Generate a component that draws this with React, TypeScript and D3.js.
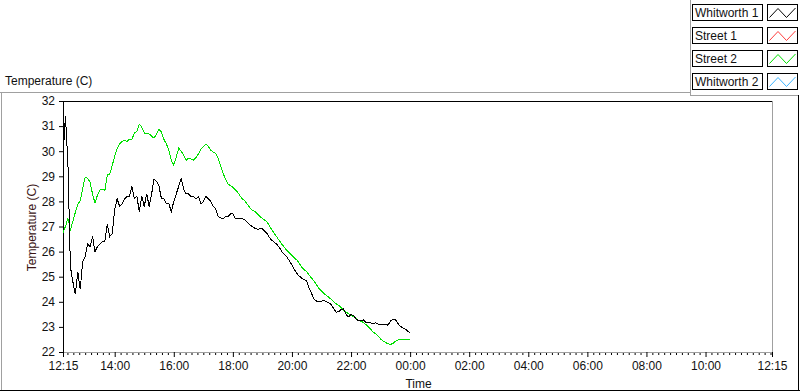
import React, { useRef, useEffect } from 'react';
import * as d3 from 'd3';

// time axis: one day starting at 12:15, samples every 5 minutes
const startTime = new Date(2000, 0, 1, 12, 15);
const endTime = new Date(2000, 0, 2, 12, 15);
const sampleMinutes = 5;

const whitworth1 = [
  29.8, 31.4, 29.5, 25.4, 24.8, 24.3, 25.2, 24.5, 25.6, 25.8,
  26.3, 26.2, 26.6, 26.0, 26.2, 26.3, 26.4, 26.4, 27.1, 26.6,
  26.7, 27.7, 28.1, 27.8, 27.9, 28.1, 28.2, 28.2, 28.6, 28.1,
  28.2, 27.6, 28.2, 27.8, 28.3, 27.8, 28.3, 28.9, 28.8, 28.6,
  28.1, 28.1, 27.9, 27.9, 27.6, 28.0, 28.3, 28.6, 28.9, 28.5,
  28.3, 28.3, 28.2, 28.2, 28.1, 28.2, 27.9, 28.0, 28.2, 28.1,
  28.0, 27.8, 27.7, 27.4, 27.35, 27.3, 27.4, 27.4, 27.5, 27.5,
  27.3, 27.3, 27.3, 27.3, 27.25, 27.15, 27.05, 27.0, 26.93, 26.89,
  26.91, 26.91, 26.8, 26.71, 26.54, 26.44, 26.36, 26.28, 26.15, 25.98,
  25.88, 25.78, 25.62, 25.47, 25.29, 25.13, 25.02, 24.94, 24.89, 24.84,
  24.52, 24.33, 24.09, 24.03, 24.03, 24.03, 24.05, 24.0, 23.95, 23.89,
  23.72, 23.59, 23.61, 23.69, 23.72, 23.49, 23.4, 23.49, 23.45, 23.32,
  23.25, 23.25, 23.28, 23.19, 23.16, 23.16, 23.14, 23.16, 23.11, 23.1,
  23.1, 23.1, 23.07, 23.23, 23.3, 23.3, 23.14, 23.03, 22.96, 22.92,
  22.83, 22.76,
];

const street1: number[] = [];

const street2 = [
  26.76, 27.0, 27.33, 26.87, 27.19, 27.56, 27.89, 28.03, 28.52, 28.96,
  28.92, 28.76, 28.29, 27.93, 28.25, 28.45, 28.49, 28.43, 29.05, 29.09,
  29.43, 29.8, 30.12, 30.29, 30.4, 30.43, 30.39, 30.48, 30.47, 30.73,
  30.79, 31.08, 30.96, 30.73, 30.69, 30.69, 30.6, 30.52, 30.69, 30.87,
  30.76, 30.47, 30.29, 30.03, 29.63, 29.45, 29.76, 30.12, 29.99, 29.85,
  29.64, 29.72, 29.69, 29.64, 29.75, 29.89, 30.09, 30.17, 30.28, 30.2,
  30.04, 29.96, 29.92, 29.73, 29.43, 29.13, 28.89, 28.69, 28.63, 28.56,
  28.47, 28.36, 28.2, 28.09, 28.01, 27.87, 27.73, 27.63, 27.61, 27.49,
  27.4, 27.32, 27.25, 27.17, 27.0, 26.85, 26.69, 26.56, 26.42, 26.28,
  26.16, 26.04, 25.95, 25.84, 25.75, 25.66, 25.53, 25.38, 25.28, 25.2,
  25.06, 24.94, 24.82, 24.68, 24.52, 24.44, 24.33, 24.26, 24.18, 24.09,
  23.99, 23.92, 23.86, 23.76, 23.67, 23.59, 23.52, 23.47, 23.41, 23.33,
  23.27, 23.22, 23.18, 23.1, 23.0, 22.9, 22.8, 22.72, 22.63, 22.52,
  22.44, 22.38, 22.33, 22.3, 22.34, 22.43, 22.48, 22.5, 22.5, 22.5,
  22.5, 22.5,
];

const whitworth2: number[] = [];

const seriesNames = ['Whitworth 1', 'Street 1', 'Street 2', 'Whitworth 2'];
const seriesColors = ['#000000', '#ff3c3c', '#00e000', '#3cb4ff'];
const seriesValues = [whitworth1, street1, street2, whitworth2];
const drawOrder = [2, 3, 1, 0];

const yDomain = [22, 32];
const yTickValues = [22, 23, 24, 25, 26, 27, 28, 29, 30, 31, 32];

const FONT = '"Liberation Sans", Arial, sans-serif';

export default function App() {
  const svgRef = useRef<SVGSVGElement>(null);

  useEffect(() => {
    if (!svgRef.current) return;
    const width = 800;
    const height = 392;
    const plot = { left: 63, top: 101, right: 772, bottom: 352 };

    const svg = d3.select(svgRef.current);
    svg.selectAll('*').remove();
    svg.attr('width', width).attr('height', height).attr('viewBox', `0 0 ${width} ${height}`);

    svg.append('rect').attr('width', width).attr('height', height).attr('fill', '#fff');

    // outer panel frame
    const gray = '#a0a0a0';
    svg.append('line').attr('x1', 0).attr('x2', 690).attr('y1', 92.5).attr('y2', 92.5).attr('stroke', gray);
    svg.append('line').attr('x1', 690.5).attr('x2', 690.5).attr('y1', 0).attr('y2', 95).attr('stroke', gray);
    svg.append('line').attr('x1', 690).attr('x2', 799).attr('y1', 95.5).attr('y2', 95.5).attr('stroke', gray);
    svg.append('line').attr('x1', 1.5).attr('x2', 1.5).attr('y1', 92).attr('y2', 391).attr('stroke', gray);
    svg.append('line').attr('x1', 0).attr('x2', 800).attr('y1', 390.5).attr('y2', 390.5).attr('stroke', '#000');
    svg.append('line').attr('x1', 798.5).attr('x2', 798.5).attr('y1', 95).attr('y2', 391).attr('stroke', '#000');

    svg.append('text')
      .attr('x', 5).attr('y', 85)
      .attr('font-family', FONT).attr('font-size', 12).attr('fill', '#111')
      .text('Temperature (C)');

    const x = d3.scaleTime().domain([startTime, endTime]).range([plot.left, plot.right]);
    const y = d3.scaleLinear().domain(yDomain).range([plot.bottom, plot.top]);

    // plot frame top / right
    svg.append('line').attr('x1', plot.left).attr('x2', plot.right + 1)
      .attr('y1', plot.top + 0.5).attr('y2', plot.top + 0.5).attr('stroke', '#000');
    svg.append('line').attr('x1', plot.right + 0.5).attr('x2', plot.right + 0.5)
      .attr('y1', plot.top).attr('y2', plot.bottom + 1).attr('stroke', gray);

    // y axis
    const yAxis = svg.append('g')
      .attr('transform', `translate(${plot.left},0)`)
      .call(d3.axisLeft(y).tickValues(yTickValues).tickSize(4).tickSizeOuter(0).tickPadding(4));
    yAxis.select('.domain').attr('stroke', '#000');
    yAxis.selectAll('.tick line').attr('stroke', '#000');
    yAxis.selectAll('text').attr('font-family', FONT).attr('font-size', 12).attr('fill', '#111');

    // x axis: labelled ticks at the ends and every 2 hours, minor ticks every 12 minutes
    const evenHours = d3.timeHour.every(2)!.range(d3.timeMinute.offset(startTime, 30), d3.timeMinute.offset(endTime, -30));
    const majorTicks = [startTime, ...evenHours, endTime];
    const majorSet = new Set(majorTicks.map((d) => +d));
    const minorTicks = d3.timeMinute.every(12)!.range(startTime, endTime).filter((d) => !majorSet.has(+d));

    const xMinor = svg.append('g')
      .attr('transform', `translate(0,${plot.bottom})`)
      .call(d3.axisBottom(x).tickValues(minorTicks).tickSize(3).tickSizeOuter(0).tickFormat(() => ''));
    xMinor.select('.domain').remove();
    xMinor.selectAll('.tick line').attr('stroke', '#000');

    const xAxis = svg.append('g')
      .attr('transform', `translate(0,${plot.bottom})`)
      .call(d3.axisBottom(x).tickValues(majorTicks).tickSize(5).tickSizeOuter(0).tickPadding(4)
        .tickFormat((d) => d3.timeFormat('%H:%M')(d as Date)));
    xAxis.select('.domain').attr('stroke', gray);
    xAxis.selectAll('.tick line').attr('stroke', '#000');
    xAxis.selectAll('text').attr('font-family', FONT).attr('font-size', 12).attr('fill', '#111');

    // axis titles
    svg.append('text')
      .attr('transform', `translate(36,${(plot.top + plot.bottom) / 2 + 1}) rotate(-90)`)
      .attr('text-anchor', 'middle')
      .attr('font-family', FONT).attr('font-size', 12).attr('fill', '#3a1414')
      .text('Temperature (C)');
    svg.append('text')
      .attr('x', (plot.left + plot.right) / 2 + 1).attr('y', 388)
      .attr('text-anchor', 'middle')
      .attr('font-family', FONT).attr('font-size', 12).attr('fill', '#111')
      .text('Time');

    // series lines
    const line = d3.line<number>()
      .x((_, i) => x(d3.timeMinute.offset(startTime, i * sampleMinutes)))
      .y((v) => y(v));

    drawOrder.forEach((k) => {
      const values = seriesValues[k];
      if (!values.length) return;
      svg.append('path')
        .datum(values)
        .attr('fill', 'none')
        .attr('stroke', seriesColors[k])
        .attr('stroke-width', 1)
        .attr('shape-rendering', 'crispEdges')
        .attr('d', line);
    });

    // legend
    seriesNames.forEach((name, i) => {
      const top = 4.5 + i * 23;
      svg.append('rect')
        .attr('x', 692.5).attr('y', top).attr('width', 70).attr('height', 16)
        .attr('fill', '#fff').attr('stroke', '#000');
      svg.append('text')
        .attr('x', 695).attr('y', top + 12.5)
        .attr('font-family', FONT).attr('font-size', 12).attr('fill', '#111')
        .text(name);
      svg.append('rect')
        .attr('x', 767.5).attr('y', top).attr('width', 30).attr('height', 16)
        .attr('fill', '#fff').attr('stroke', '#000');
      const zig: [number, number][] = [[769.5, top + 13], [778, top + 4], [786.5, top + 13], [795.5, top + 3.5]];
      svg.append('path')
        .attr('d', d3.line()(zig))
        .attr('fill', 'none')
        .attr('stroke', seriesColors[i])
        .attr('stroke-width', 1);
    });
  }, []);

  return (
    <div>
      <style>{'body{margin:0}'}</style>
      <svg ref={svgRef} style={{ display: 'block' }} />
    </div>
  );
}
